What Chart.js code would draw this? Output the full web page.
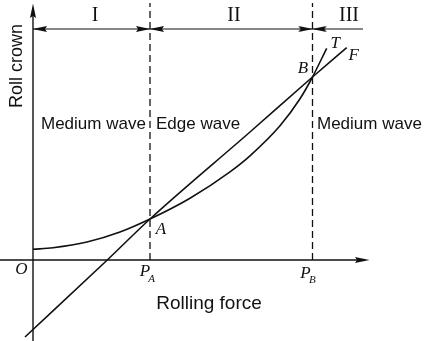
<!DOCTYPE html>
<html>
<head>
<meta charset="utf-8">
<script src="https://cdn.jsdelivr.net/npm/chart.js@4"></script>
<style>
  html, body { margin: 0; padding: 0; background: #fff; }
  #wrap { width: 424px; height: 341px; }
</style>
</head>
<body>
<div id="wrap"><canvas id="crownChart" width="424" height="341"></canvas></div>
<script>
// T 曲線 (rolling force -> roll crown)
const forceT = [0, 2.0, 5.4, 8.7, 11.7, 15.7, 19.7, 21.7, 24.7, 26.7, 27.95, 29.37];
const crownT = [1.07, 1.23, 1.8, 2.8, 4.1, 6.18, 8.82, 10.42, 13.42, 16.12, 18.3, 21.17];
// F 直線
const forceF = [-0.8, 7.43, 11.7, 21.7, 27.95, 31.37];
const crownF = [-7.7, 0, 4.1, 12.8, 18.3, 21.23];
// 分界點 P_A, P_B
const forceA = 11.7;
const forceB = 27.95;
// 文字
const regionNames = ['I', 'II', 'III'];
const waveNames = ['Medium wave', 'Edge wave', 'Medium wave'];
const xTitle = 'Rolling force';
const yTitle = 'Roll crown';

const ink = '#111';
const xMin = -3.3, xMax = 39.1, yMin = -8.1, yMax = 26.0;
const yTop = 25.6;   // 軸頂
const dimY = 23.1;   // 區間標線
const dimEnd = 33.0;
const xEnd = 33.6;

const toPts = (xs, ys) => xs.map((x, i) => ({ x: x, y: ys[i] }));

// 箭頭 (tip at canvas centre, pointing right)
function makeArrow(len, half) {
    const c = document.createElement('canvas');
    c.width = len * 2 + 2;
    c.height = half * 2 + 2;
    const g = c.getContext('2d');
    const cx = c.width / 2, cy = c.height / 2;
    g.fillStyle = ink;
    g.beginPath();
    g.moveTo(cx + 0.5, cy);
    g.lineTo(cx - len, cy - half);
    g.lineTo(cx - len + 2, cy);
    g.lineTo(cx - len, cy + half);
    g.closePath();
    g.fill();
    return c;
}
const arrowImg = makeArrow(14, 3);

const arrowPts = [
    { x: xEnd, y: 0, r: 0 },
    { x: 0, y: yTop, r: -90 },
    { x: 0, y: dimY, r: 180 },
    { x: forceA, y: dimY, r: 0 },
    { x: forceA, y: dimY, r: 180 },
    { x: forceB, y: dimY, r: 0 },
    { x: forceB, y: dimY, r: 180 }
];

const lineDs = (data, extra) => Object.assign({
    type: 'line',
    data: data,
    borderColor: ink,
    borderWidth: 1.6,
    pointRadius: 0,
    fill: false
}, extra || {});

// 文字繪製
const labelPlugin = {
    id: 'labels',
    afterDatasetsDraw(chart) {
        const c = chart.ctx;
        const sx = chart.scales.x, sy = chart.scales.y;
        const px = v => sx.getPixelForValue(v);
        const py = v => sy.getPixelForValue(v);
        c.save();
        c.fillStyle = ink;

        // I II III
        c.font = '20px "Liberation Serif", serif';
        c.textAlign = 'center';
        c.textBaseline = 'middle';
        c.fillText(regionNames[0], px(6.2), 16);
        c.fillText(regionNames[1], px(20.1), 16);
        c.fillText(regionNames[2], px(31.6), 16);

        // 波形
        c.font = '17px "Liberation Sans", Arial, sans-serif';
        c.textAlign = 'left';
        c.textBaseline = 'alphabetic';
        c.fillText(waveNames[0], px(0.8), 128.5);
        c.fillText(waveNames[1], px(forceA) + 6, 128.5);
        c.fillText(waveNames[2], px(forceB) + 4.5, 128.5);

        // 軸標題
        c.font = '19px "Liberation Sans", Arial, sans-serif';
        c.textAlign = 'center';
        c.fillText(xTitle, 209, 309);
        c.font = '18px "Liberation Sans", Arial, sans-serif';
        c.save();
        c.translate(21.5, 66);
        c.rotate(-Math.PI / 2);
        c.fillText(yTitle, 0, 0);
        c.restore();

        // 點名
        c.font = 'italic 17px "Liberation Serif", serif';
        c.textBaseline = 'middle';
        c.fillText('O', px(0) - 11.5, py(0) + 10);
        c.fillText('P', px(forceA) - 5, py(0) + 12);
        c.fillText('P', px(forceB) - 7, py(0) + 13.5);
        c.fillText('A', px(forceA) + 11, py(4.1) + 11);
        c.fillText('B', px(forceB) - 9.5, py(18.3) - 8);
        c.fillText('T', px(29.37) + 8.5, py(21.17) - 5);
        c.fillText('F', px(31.37) + 7, py(21.23) + 7.5);
        c.font = 'italic 11px "Liberation Serif", serif';
        c.fillText('A', px(forceA) + 1.5, py(0) + 19.5);
        c.fillText('B', px(forceB) - 0.2, py(0) + 20);
        c.restore();
    }
};

const ctx = document.getElementById('crownChart').getContext('2d');
const crownChart = new Chart(ctx, {
    type: 'scatter',
    data: {
        datasets: [
            // 坐標軸
            lineDs([{ x: xMin, y: 0 }, { x: xEnd - 1, y: 0 }], { borderWidth: 1.4 }),
            lineDs([{ x: 0, y: yMin }, { x: 0, y: yTop - 0.4 }], { borderWidth: 1.4 }),
            // 區間標線
            lineDs([{ x: 0, y: dimY }, { x: dimEnd, y: dimY }], { borderWidth: 1.2 }),
            // 分界虛線
            lineDs([{ x: forceA, y: 0 }, { x: forceA, y: yTop + 0.1 }], { borderWidth: 1.3, borderDash: [7, 4] }),
            lineDs([{ x: forceB, y: 0 }, { x: forceB, y: yTop + 0.1 }], { borderWidth: 1.3, borderDash: [7, 4] }),
            // T, F
            lineDs(toPts(forceT, crownT), { cubicInterpolationMode: 'monotone' }),
            lineDs(toPts(forceF, crownF), { cubicInterpolationMode: 'monotone' }),
            // 箭頭
            {
                type: 'scatter',
                data: arrowPts.map(p => ({ x: p.x, y: p.y })),
                pointStyle: arrowImg,
                pointRadius: 5,
                pointHoverRadius: 5,
                rotation: arrowPts.map(p => p.r)
            }
        ]
    },
    options: {
        responsive: false,
        animation: false,
        events: [],
        layout: { padding: 0, autoPadding: false },
        plugins: { legend: { display: false }, tooltip: { enabled: false } },
        scales: {
            x: { type: 'linear', display: false, min: xMin, max: xMax },
            y: { type: 'linear', display: false, min: yMin, max: yMax }
        }
    },
    plugins: [labelPlugin]
});
</script>
</body>
</html>
